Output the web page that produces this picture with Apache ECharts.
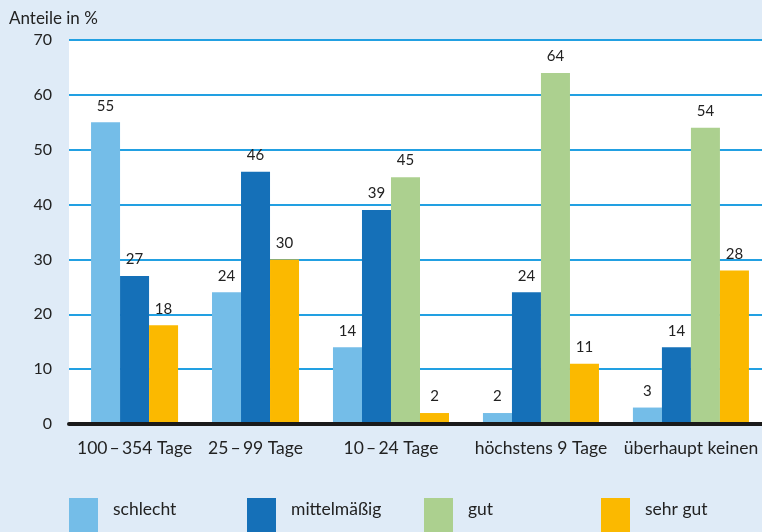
<!DOCTYPE html>
<html>
<head>
<meta charset="utf-8">
<script src="https://cdn.jsdelivr.net/npm/echarts@6/dist/echarts.min.js"></script>
<style>
html,body{margin:0;padding:0;background:#dfebf7;}
#chart{width:762px;height:532px;}
</style>
</head>
<body>
<div id="chart"></div>
<script>
// ---- Data ----
const categories = ['100\u2009–\u2009354 Tage', '25\u2009–\u200999 Tage', '10\u2009–\u200924 Tage', 'höchstens 9 Tage', 'überhaupt keinen'];
const seriesNames = ['schlecht', 'mittelmäßig', 'gut', 'sehr gut'];
const schlecht = [55, 24, 14, 2, 3];
const mittelmaessig = [27, 46, 39, 24, 14];
const gut = [null, null, 45, 64, 54];
const sehrGut = [18, 30, 2, 11, 28];
const yTicks = [0, 10, 20, 30, 40, 50, 60, 70];

// ---- Styling / layout ----
const colors = ['#74bde8', '#1570b8', '#acd08f', '#fbb900'];
const FONT = 'Lato';
const TEXT = '#222';
const leftPad = 0.76, groupGap = 1.17, rightPad = 0.45; // in bar-width units

const allSeries = [schlecht, mittelmaessig, gut, sehrGut];
const seriesData = allSeries.map(() => []);
const centers = [];
let pos = leftPad;
categories.forEach((c, g) => {
  const start = pos;
  allSeries.forEach((arr, s) => {
    if (arr[g] != null) {
      seriesData[s].push([pos, pos + 1, arr[g]]);
      pos += 1;
    }
  });
  centers.push((start + pos) / 2);
  if (g < categories.length - 1) pos += groupGap;
});
const xMax = pos + rightPad;

function renderBar(params, api) {
  const x0 = api.value(0), x1 = api.value(1), v = api.value(2);
  const tl = api.coord([x0, v]);
  const br = api.coord([x1, 0]);
  return {
    type: 'group',
    children: [
      { type: 'rect', shape: { x: tl[0], y: tl[1], width: br[0] - tl[0], height: br[1] - tl[1] },
        style: { fill: colors[params.seriesIndex] } },
      { type: 'text', style: { text: String(v), x: (tl[0] + br[0]) / 2, y: tl[1] - 9,
        align: 'center', verticalAlign: 'bottom', fill: TEXT, fontSize: 15, fontFamily: FONT } }
    ]
  };
}

const legendLefts = [64, 242, 419, 596];

const option = {
  backgroundColor: '#dfebf7',
  animation: false,
  title: { text: 'Anteile in %', left: 4, top: 5,
    textStyle: { fontSize: 17, fontWeight: 'normal', color: TEXT, fontFamily: FONT } },
  grid: { left: 69, top: 40, right: 0, bottom: 108, show: true, backgroundColor: '#ffffff', borderWidth: 0 },
  legend: seriesNames.map((n, i) => ({
    data: [n], left: legendLefts[i], top: 493, itemWidth: 29, itemHeight: 36, icon: 'rect',
    formatter: '{t|{name}}',
    textStyle: { color: TEXT, fontFamily: FONT,
      rich: { t: { fontSize: 17.5, color: TEXT, fontFamily: FONT, padding: [0, 0, 14, 10] } } }
  })),
  xAxis: {
    type: 'value', min: 0, max: xMax, z: 5,
    axisLine: { show: true, lineStyle: { color: '#1a1a1a', width: 4 } },
    axisTick: { show: false }, splitLine: { show: false },
    axisLabel: {
      customValues: centers, margin: 15, fontSize: 17.5, color: TEXT, fontFamily: FONT,
      formatter: (val) => {
        let best = 0;
        centers.forEach((c, i) => { if (Math.abs(c - val) < Math.abs(centers[best] - val)) best = i; });
        return categories[best];
      }
    }
  },
  yAxis: {
    type: 'value', min: yTicks[0], max: yTicks[yTicks.length - 1], interval: 10,
    axisLine: { show: false }, axisTick: { show: false },
    axisLabel: { margin: 17, fontSize: 16, color: TEXT, fontFamily: FONT },
    splitLine: { show: true, lineStyle: { color: '#22a0e2', width: 2 } }
  },
  series: seriesNames.map((n, i) => ({
    name: n, type: 'custom', renderItem: renderBar, itemStyle: { color: colors[i] },
    encode: { x: [0, 1], y: 2 }, data: seriesData[i]
  }))
};

const chart = echarts.init(document.getElementById('chart'));
chart.setOption(option);
</script>
</body>
</html>
